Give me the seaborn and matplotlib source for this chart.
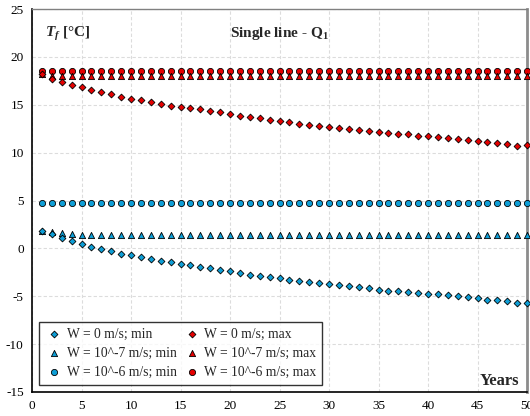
import numpy as np
import pandas as pd
import matplotlib
matplotlib.use("Agg")
import matplotlib.pyplot as plt
import seaborn as sns

years = list(range(1, 51))

w0_max = [18.2, 17.67, 17.36, 17.08, 16.81, 16.52, 16.28, 16.08, 15.82, 15.62,
          15.45, 15.27, 15.09, 14.89, 14.75, 14.61, 14.51, 14.33, 14.20, 14.02,
          13.85, 13.67, 13.57, 13.39, 13.29, 13.18, 13.01, 12.90, 12.80, 12.69,
          12.59, 12.45, 12.38, 12.28, 12.14, 12.04, 11.93, 11.93, 11.75, 11.69,
          11.59, 11.48, 11.38, 11.30, 11.20, 11.13, 10.96, 10.89, 10.71, 10.81]
w7_max = [18.2, 18.05] + [18.05] * 48
w6_max = [18.5] * 50

w0_min = [1.85, 1.47, 1.10, 0.74, 0.47, 0.16, -0.05, -0.30, -0.54, -0.72,
          -0.89, -1.07, -1.28, -1.46, -1.59, -1.73, -1.91, -2.01, -2.22, -2.36,
          -2.54, -2.73, -2.85, -2.98, -3.12, -3.26, -3.36, -3.50, -3.60, -3.75,
          -3.79, -3.88, -4.06, -4.13, -4.33, -4.44, -4.44, -4.51, -4.65, -4.72,
          -4.75, -4.90, -4.96, -5.10, -5.21, -5.34, -5.38, -5.48, -5.66, -5.69]
w7_min = [1.85, 1.70, 1.57, 1.48] + [1.42] * 46
w6_min = [4.75] * 50

labels = ["W = 0 m/s; min", "W = 10^-7 m/s; min", "W = 10^-6 m/s; min",
          "W = 0 m/s; max", "W = 10^-7 m/s; max", "W = 10^-6 m/s; max"]
series = [w0_min, w7_min, w6_min, w0_max, w7_max, w6_max]

BLUE = "#0E9ED6"
RED = "#E50000"
colors = [BLUE, BLUE, BLUE, RED, RED, RED]
markers = ["D", "^", "o", "D", "^", "o"]
sizes = [12, 20, 20, 12, 20, 20]

sns.set_style("white")
plt.rcParams["font.family"] = ["Liberation Serif", "DejaVu Serif"]
plt.rcParams["axes.unicode_minus"] = False
plt.rcParams["mathtext.fontset"] = "custom"
plt.rcParams["mathtext.rm"] = "Liberation Serif"
plt.rcParams["mathtext.it"] = "Liberation Serif:italic"
plt.rcParams["mathtext.bf"] = "Liberation Serif:bold"
plt.rcParams["mathtext.bfit"] = "Liberation Serif:bold:italic"

fig = plt.figure(figsize=(5.30, 4.16), dpi=100)
ax = fig.add_axes([32 / 530, 24 / 416, (527 - 32) / 530, (392 - 9) / 416])

rows = []
for lab, vals in zip(labels, series):
    for x, v in zip(years, vals):
        rows.append({"Years": x, "T": v, "series": lab})
df = pd.DataFrame(rows)

order_draw = [2, 1, 0, 5, 4, 3]
for i in order_draw:
    sub = df[df["series"] == labels[i]]
    sns.scatterplot(data=sub, x="Years", y="T", ax=ax, marker=markers[i],
                    s=sizes[i], color=colors[i], edgecolor="black",
                    linewidth=0.6, label=labels[i], zorder=3, clip_on=False)

ax.set_xlim(0, 50)
ax.set_ylim(-15, 25)
ax.set_xticks(range(0, 51, 5))
ax.set_yticks(range(-15, 26, 5))
ax.set_xlabel("")
ax.set_ylabel("")
ax.grid(True, color="#dcdcdc", linestyle=(0, (3, 2)), linewidth=0.8)
ax.set_axisbelow(True)
ax.tick_params(axis="both", labelsize=9.5, direction="out", length=3,
               width=0.8, colors="black", pad=3)
for s in ["left", "bottom"]:
    ax.spines[s].set_color("black")
    ax.spines[s].set_linewidth(1.2)
ax.spines["top"].set_color("#808080")
ax.spines["top"].set_linewidth(1.0)
ax.spines["right"].set_color("#8c8c8c")
ax.spines["right"].set_linewidth(2.0)

h, l = ax.get_legend_handles_labels()
hm = dict(zip(l, h))
leg = ax.legend([hm[k] for k in labels], labels, ncol=2, loc="lower left",
                bbox_to_anchor=(0.0, 0.0), fontsize=9.8, frameon=True,
                fancybox=False, shadow=False, edgecolor="black",
                handletextpad=0.2, columnspacing=0.4, labelspacing=0.45,
                borderpad=0.45, handlelength=1.4, borderaxespad=0.5)
leg.get_frame().set_linewidth(1.0)

ax.text(0.026, 0.935, r"$\mathbfit{T}_{\mathbfit{f}}$ [°C]", transform=ax.transAxes,
        fontsize=11, fontweight="bold", ha="left", va="center")
ax.text(0.50, 0.935, r"Single line - Q$_{\mathbf{1}}$", transform=ax.transAxes,
        fontsize=11, fontweight="bold", ha="center", va="center")
ax.text(0.985, 0.028, "Years", transform=ax.transAxes,
        fontsize=12, fontweight="bold", ha="right", va="center")

fig.savefig("out.png", dpi=100)
